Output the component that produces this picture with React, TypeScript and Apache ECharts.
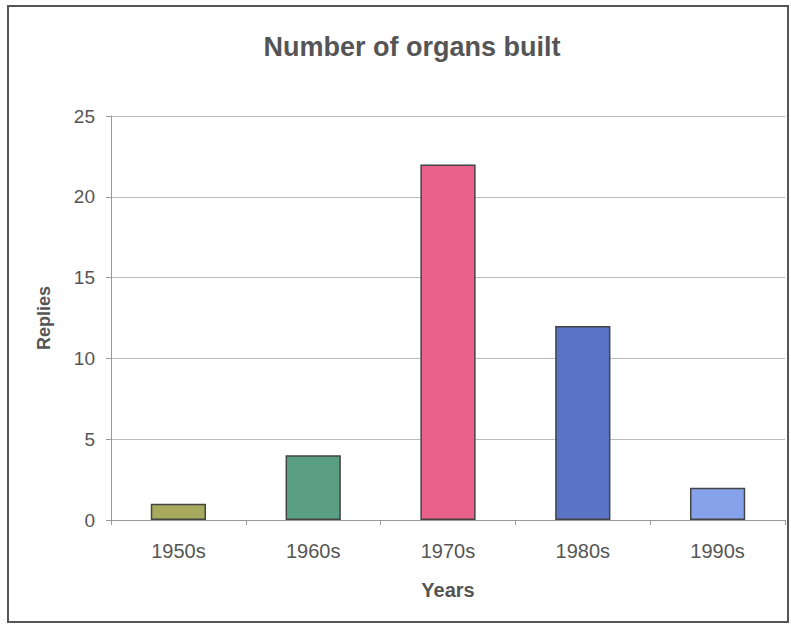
import React, { useEffect, useRef } from "react";
import * as echarts from "echarts";

const categories = ["1950s", "1960s", "1970s", "1980s", "1990s"];
const replies = [1, 4, 22, 12, 2];
const barColors = ["#a7aa5c", "#5a9f83", "#e9628b", "#5b73c5", "#86a2ea"];
const yTicks = { min: 0, max: 25, interval: 5 };

export default function App() {
  const ref = useRef<HTMLDivElement>(null);
  useEffect(() => {
    if (!ref.current) return;
    const chart = echarts.init(ref.current, undefined, { renderer: "svg" });
    const font = "'Liberation Sans', Arial, sans-serif";
    chart.setOption({
      animation: false,
      backgroundColor: "#ffffff",
      title: {
        text: "Number of organs built",
        left: 407,
        top: 28,
        textAlign: "center",
        textStyle: { fontFamily: font, fontSize: 27, fontWeight: "bold", color: "#555555" },
      },
      graphic: [
        {
          type: "rect",
          shape: { x: 8, y: 6, width: 780, height: 616 },
          style: { fill: "none", stroke: "#555555", lineWidth: 2 },
          silent: true,
        },
      ],
      grid: { left: 111, top: 116, width: 674, height: 404 },
      xAxis: {
        type: "category",
        data: categories,
        name: "Years",
        nameLocation: "middle",
        nameGap: 60,
        nameTextStyle: { fontFamily: font, fontSize: 20, fontWeight: "bold", color: "#555555" },
        axisLine: { lineStyle: { color: "#999999", width: 1 } },
        axisTick: { show: true, length: 5, lineStyle: { color: "#999999" } },
        axisLabel: { fontFamily: font, fontSize: 20, color: "#555555", margin: 21 },
      },
      yAxis: {
        type: "value",
        min: yTicks.min,
        max: yTicks.max,
        interval: yTicks.interval,
        name: "Replies",
        nameLocation: "middle",
        nameGap: 58,
        nameTextStyle: { fontFamily: font, fontSize: 18, fontWeight: "bold", color: "#555555" },
        axisLine: { show: true, lineStyle: { color: "#999999", width: 1 } },
        axisTick: { show: true, length: 5, lineStyle: { color: "#999999" } },
        axisLabel: { fontFamily: font, fontSize: 19, color: "#555555", margin: 16 },
        splitLine: { lineStyle: { color: "#bbbbbb", width: 1 } },
      },
      series: [
        {
          type: "bar",
          data: replies.map((v, i) => ({
            value: v,
            itemStyle: { color: barColors[i] },
          })),
          barWidth: "41%",
          itemStyle: { borderColor: "#444444", borderWidth: 1.5 },
        },
      ],
    });
    return () => chart.dispose();
  }, []);
  return (
    <div
      ref={ref}
      style={{ position: "absolute", left: 0, top: 0, width: 791, height: 627 }}
    />
  );
}
